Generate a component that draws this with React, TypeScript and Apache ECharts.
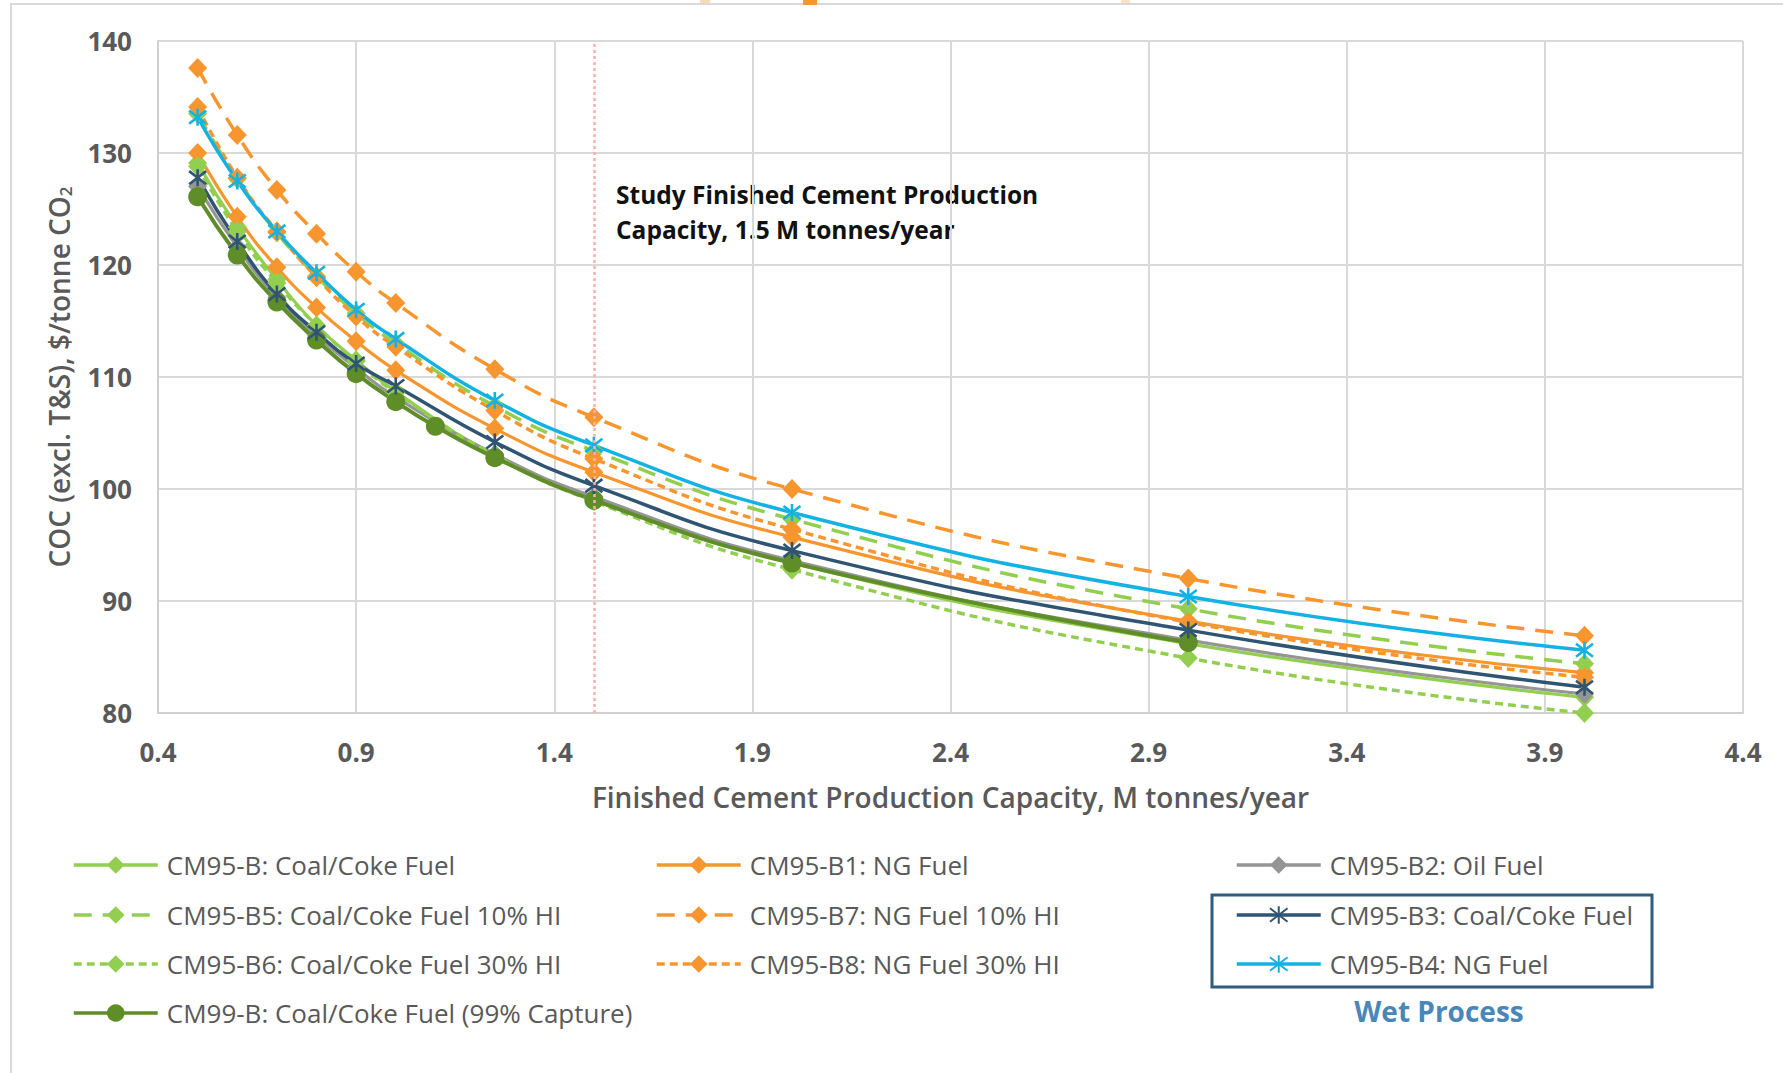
import React, { useEffect, useRef } from "react";
import * as echarts from "echarts";

// ---- Data ----
const capacityMain = [0.5, 0.6, 0.7, 0.8, 0.9, 1.0, 1.25, 1.5, 2.0, 3.0, 4.0];
const capacityCM99 = [0.5, 0.6, 0.7, 0.8, 0.9, 1.0, 1.1, 1.25, 1.5, 2.0, 3.0];

const cm95B = [129.1, 123.4, 118.7, 114.6, 111.5, 108.7, 103.0, 99.2, 93.4, 86.2, 81.4];
const cm95B1 = [130.0, 124.3, 119.8, 116.2, 113.2, 110.6, 105.4, 101.5, 95.7, 88.2, 83.6];
const cm95B2 = [127.0, 121.6, 117.1, 113.7, 110.8, 108.2, 103.1, 99.3, 93.6, 86.5, 81.7];
const cm95B3 = [127.8, 122.1, 117.4, 114.0, 111.2, 109.2, 104.2, 100.3, 94.5, 87.4, 82.3];
const cm95B4 = [133.2, 127.5, 123.0, 119.3, 116.0, 113.4, 107.9, 103.9, 97.9, 90.4, 85.6];
const cm95B5 = [133.5, 127.7, 122.9, 119.0, 115.7, 113.0, 107.4, 103.4, 97.3, 89.3, 84.4];
const cm95B6 = [128.8, 123.0, 118.4, 114.6, 111.4, 108.6, 103.0, 98.9, 92.8, 84.9, 80.0];
const cm95B7 = [137.6, 131.6, 126.7, 122.8, 119.4, 116.6, 110.7, 106.4, 100.0, 92.0, 86.9];
const cm95B8 = [134.1, 127.8, 123.0, 118.9, 115.4, 112.7, 107.0, 102.7, 96.4, 88.1, 83.2];
const cm99B = [126.1, 120.9, 116.7, 113.3, 110.3, 107.8, 105.6, 102.8, 99.0, 93.4, 86.3];

const studyCapacity = 1.5;

const xTicks = { min: 0.4, max: 4.4, interval: 0.5 };
const yTicks = { min: 80, max: 140, interval: 10 };

const seriesNames = {
  b: "CM95-B: Coal/Coke Fuel",
  b1: "CM95-B1: NG Fuel",
  b2: "CM95-B2: Oil Fuel",
  b3: "CM95-B3: Coal/Coke Fuel",
  b4: "CM95-B4: NG Fuel",
  b5: "CM95-B5: Coal/Coke Fuel 10% HI",
  b6: "CM95-B6: Coal/Coke Fuel 30% HI",
  b7: "CM95-B7: NG Fuel 10% HI",
  b8: "CM95-B8: NG Fuel 30% HI",
  cm99: "CM99-B: Coal/Coke Fuel (99% Capture)",
};

const LGREEN = "#92CF50";
const ORANGE = "#F7962F";
const GRAY = "#959595";
const DBLUE = "#2F5573";
const CYAN = "#14B2E2";
const DGREEN = "#5F8D28";

const STAR = "path://M0 0L10 10M10 0L0 10M5 -1.5L5 11.5";

const FONT = "'Open Sans', 'Noto Sans', sans-serif";

function pairs(xs: number[], ys: number[]) {
  return xs.map((x, i) => [x, ys[i]]);
}

export default function App() {
  const ref = useRef<HTMLDivElement>(null);

  useEffect(() => {
    if (!ref.current) return;
    const chart = echarts.init(ref.current, undefined, { renderer: "svg" });

    const mk = (
      name: string,
      xs: number[],
      ys: number[],
      color: string,
      opts: { dash?: number[]; width?: number; symbol?: string; size?: any; star?: boolean }
    ) => ({
      name,
      type: "line",
      data: pairs(xs, ys),
      smooth: 0.5,
      symbol: opts.symbol || "diamond",
      symbolSize: opts.size || [19, 20],
      showSymbol: true,
      lineStyle: {
        color,
        width: opts.width || 3.2,
        type: opts.dash || "solid",
      },
      itemStyle: opts.star
        ? { color: "rgba(0,0,0,0)", borderColor: color, borderWidth: 2.6 }
        : { color, borderColor: color, borderWidth: 0 },
      emphasis: { disabled: true },
    });

    const series: any[] = [
      {
        ...mk(seriesNames.b, capacityMain, cm95B, LGREEN, {}),
        markLine: {
          silent: true,
          symbol: ["none", "none"],
          label: { show: false },
          lineStyle: { color: "#F5B3AB", width: 2.5, type: [3, 3] },
          data: [{ xAxis: studyCapacity }],
        },
      },
      mk(seriesNames.b1, capacityMain, cm95B1, ORANGE, {}),
      mk(seriesNames.b2, capacityMain, cm95B2, GRAY, {}),
      mk(seriesNames.b5, capacityMain, cm95B5, LGREEN, { dash: [18, 11], width: 3.5 }),
      mk(seriesNames.b7, capacityMain, cm95B7, ORANGE, { dash: [18, 11], width: 3.5 }),
      mk(seriesNames.b6, capacityMain, cm95B6, LGREEN, { dash: [8, 5], width: 3.5 }),
      mk(seriesNames.b8, capacityMain, cm95B8, ORANGE, { dash: [8, 5], width: 3.5 }),
      mk(seriesNames.cm99, capacityCM99, cm99B, DGREEN, { symbol: "circle", size: 19, width: 4 }),
      mk(seriesNames.b3, capacityMain, cm95B3, DBLUE, { symbol: STAR, size: 17, star: true, width: 3.5 }),
      mk(seriesNames.b4, capacityMain, cm95B4, CYAN, { symbol: STAR, size: 17, star: true, width: 3.5 }),
    ];

    const legendLayout: [string, number, number][] = [
      [seriesNames.b, 72, 0],
      [seriesNames.b1, 655, 0],
      [seriesNames.b2, 1235, 0],
      [seriesNames.b5, 72, 1],
      [seriesNames.b7, 655, 1],
      [seriesNames.b3, 1235, 1],
      [seriesNames.b6, 72, 2],
      [seriesNames.b8, 655, 2],
      [seriesNames.b4, 1235, 2],
      [seriesNames.cm99, 72, 3],
    ];
    const rowCenters = [866, 916, 965, 1014];

    const legends = legendLayout.map(([name, left, row]) => ({
      data: [name],
      left,
      top: rowCenters[row] - 14,
      padding: 0,
      itemWidth: 84,
      itemHeight: 22,
      selectedMode: false,
      lineStyle: { width: 3.5 },
      textStyle: {
        fontFamily: FONT,
        fontSize: 26,
        color: "#595959",
        padding: [0, 0, 0, 4],
      },
    }));

    const option: any = {
      animation: false,
      backgroundColor: "#ffffff",
      grid: { left: 158, right: 40, top: 41, bottom: 360, containLabel: false },
      xAxis: {
        type: "value",
        min: xTicks.min,
        max: xTicks.max,
        interval: xTicks.interval,
        name: "Finished Cement Production Capacity, M tonnes/year",
        nameLocation: "middle",
        nameGap: 70,
        nameTextStyle: { fontFamily: FONT, fontSize: 28, fontWeight: 600, color: "#595959" },
        axisLine: { show: true, lineStyle: { color: "#D0D0D0", width: 2 } },
        axisTick: { show: false },
        axisLabel: {
          margin: 26,
          fontFamily: FONT,
          fontSize: 26,
          fontWeight: "bold",
          color: "#595959",
          formatter: (v: number) => v.toFixed(1),
        },
        splitLine: { show: true, lineStyle: { color: "#D9D9D9", width: 2 } },
      },
      yAxis: {
        type: "value",
        min: yTicks.min,
        max: yTicks.max,
        interval: yTicks.interval,
        name: "COC (excl. T&S), $/tonne CO{sub|2}",
        nameLocation: "middle",
        nameGap: 84,
        nameTextStyle: {
          fontFamily: FONT,
          fontSize: 28,
          fontWeight: 600,
          color: "#595959",
          rich: {
            sub: { fontFamily: FONT, fontSize: 17, fontWeight: 600, color: "#595959", padding: [14, 0, 0, 0] },
          },
        },
        axisLine: { show: true, lineStyle: { color: "#D0D0D0", width: 2 } },
        axisTick: { show: false },
        axisLabel: {
          margin: 26,
          fontFamily: FONT,
          fontSize: 26,
          fontWeight: "bold",
          color: "#595959",
        },
        splitLine: { show: true, lineStyle: { color: "#D9D9D9", width: 2 } },
      },
      legend: legends,
      series,
      graphic: [
        {
          type: "rect",
          shape: { x: 11, y: 4, width: 1800, height: 1100 },
          style: { fill: "none", stroke: "#D9D9D9", lineWidth: 2 },
          silent: true,
        },
        { type: "rect", shape: { x: 700, y: 0, width: 10, height: 3 }, style: { fill: "#FAD9B8" }, silent: true },
        { type: "rect", shape: { x: 803, y: 0, width: 14, height: 5 }, style: { fill: "#F7962F" }, silent: true },
        { type: "rect", shape: { x: 1121, y: 0, width: 9, height: 3 }, style: { fill: "#FBE2C6" }, silent: true },
        {
          type: "text",
          x: 616,
          y: 194,
          style: {
            text: "Study Finished Cement Production",
            fontFamily: FONT,
            fontSize: 24.5,
            fontWeight: "bold",
            fill: "#111111",
            verticalAlign: "middle",
          },
          silent: true,
        },
        {
          type: "text",
          x: 616,
          y: 229,
          style: {
            text: "Capacity, 1.5 M tonnes/year",
            fontFamily: FONT,
            fontSize: 24.5,
            fontWeight: "bold",
            fill: "#111111",
            verticalAlign: "middle",
          },
          silent: true,
        },
        {
          type: "rect",
          shape: { x: 1212, y: 895, width: 440, height: 92 },
          style: { fill: "none", stroke: "#2E5D80", lineWidth: 3 },
          silent: true,
        },
        {
          type: "text",
          x: 1439,
          y: 1011,
          style: {
            text: "Wet Process",
            fontFamily: FONT,
            fontSize: 28,
            fontWeight: "bold",
            fill: "#4A87B9",
            align: "center",
            verticalAlign: "middle",
          },
          silent: true,
        },
      ],
    };

    chart.setOption(option);
    return () => chart.dispose();
  }, []);

  return (
    <div
      ref={ref}
      style={{ position: "fixed", left: 0, top: 0, width: 1783, height: 1073, background: "#fff" }}
    />
  );
}
